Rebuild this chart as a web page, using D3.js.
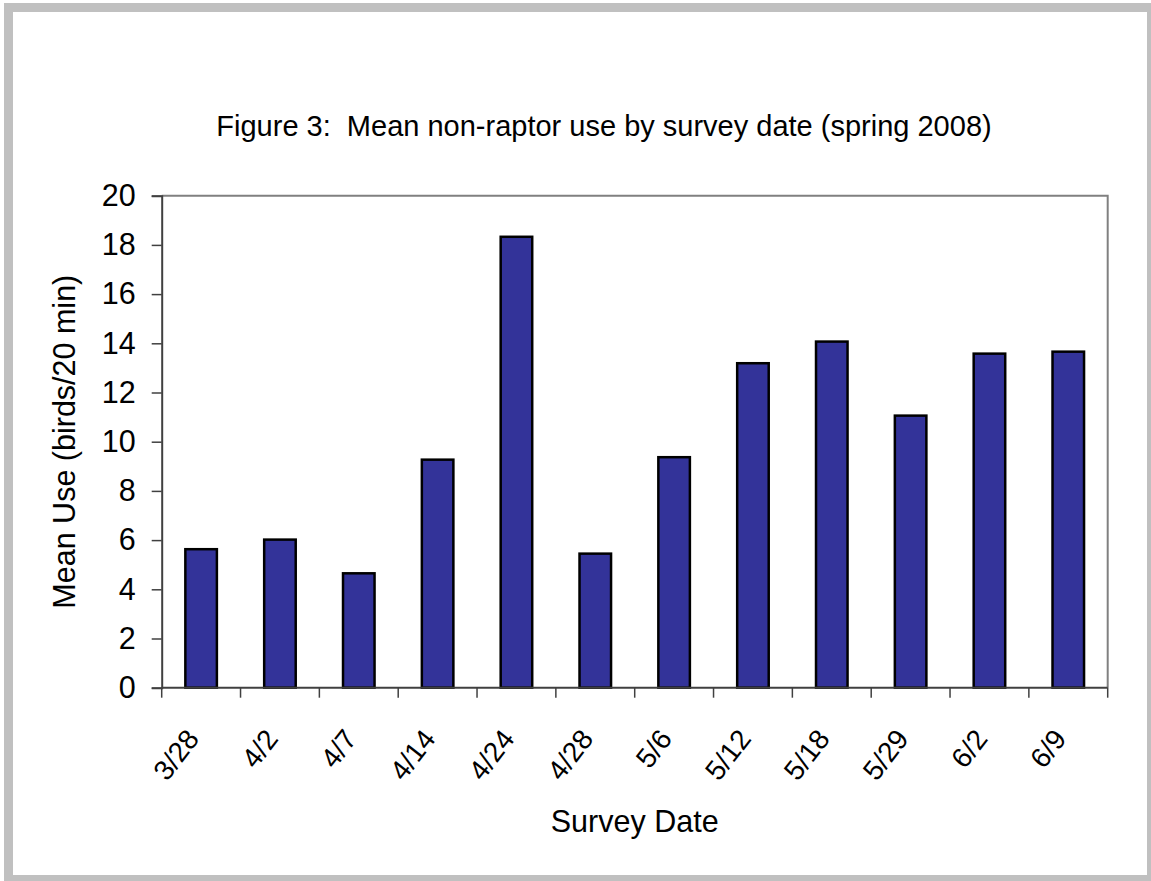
<!DOCTYPE html>
<html>
<head>
<meta charset="utf-8">
<script src="https://cdn.jsdelivr.net/npm/d3@7"></script>
<style>
  html, body { margin: 0; padding: 0; background: #fff; }
  svg { display: block; font-family: "Liberation Sans", Arial, sans-serif; }
  text { white-space: pre; }
</style>
</head>
<body>
<svg id="chart" width="1151" height="881"></svg>
<script>
// Survey dates and mean non-raptor use (birds per 20-minute survey)
const surveyDates = ["3/28", "4/2", "4/7", "4/14", "4/24", "4/28", "5/6", "5/12", "5/18", "5/29", "6/2", "6/9"];
const meanUse = [5.63, 6.02, 4.65, 9.27, 18.33, 5.45, 9.37, 13.19, 14.07, 11.06, 13.58, 13.66];
const yTicks = [0, 2, 4, 6, 8, 10, 12, 14, 16, 18, 20];

const titleText = "Figure 3:  Mean non-raptor use by survey date (spring 2008)";
const yTitle = "Mean Use (birds/20 min)";
const xTitle = "Survey Date";

const svg = d3.select("#chart");
const plot = { left: 161.7, right: 1107.7, top: 195.7, bottom: 687.7 };

// outer frame
svg.append("rect")
  .attr("x", 8.5).attr("y", 7.5)
  .attr("width", 1143).attr("height", 872)
  .attr("fill", "#fff")
  .attr("stroke", "#c0c0c0")
  .attr("stroke-width", 9);

const x = d3.scaleBand()
  .domain(surveyDates)
  .range([plot.left, plot.right])
  .paddingInner(0.6)
  .paddingOuter(0.3);

const xBand = d3.scaleBand()
  .domain(surveyDates)
  .range([plot.left, plot.right]);

const y = d3.scaleLinear()
  .domain([0, 20])
  .range([plot.bottom, plot.top]);

// plot area border (top and right)
svg.append("path")
  .attr("d", `M${plot.left},${plot.top}H${plot.right}V${plot.bottom}`)
  .attr("fill", "none")
  .attr("stroke", "#808080")
  .attr("stroke-width", 2);

// bars
svg.append("g").selectAll("rect")
  .data(surveyDates)
  .join("rect")
  .attr("x", (d) => x(d))
  .attr("width", x.bandwidth())
  .attr("y", (d, i) => y(meanUse[i]))
  .attr("height", (d, i) => y(0) - y(meanUse[i]))
  .attr("fill", "#333399")
  .attr("stroke", "#000")
  .attr("stroke-width", 2.5);

// y axis
const yAxis = d3.axisLeft(y)
  .tickValues(yTicks)
  .tickSize(10)
  .tickPadding(16)
  .tickFormat(d3.format("d"));
const gy = svg.append("g")
  .attr("transform", `translate(${plot.left},0)`)
  .call(yAxis);
gy.select(".domain").attr("stroke", "#404040").attr("stroke-width", 2);
gy.selectAll(".tick line").attr("stroke", "#404040").attr("stroke-width", 1.5);
gy.selectAll(".tick text")
  .attr("font-size", 30.5)
  .attr("fill", "#000")
  .attr("font-family", "Liberation Sans, Arial, sans-serif");

// x axis: ticks at category boundaries
const boundaries = surveyDates.map((d) => xBand(d)).concat([plot.right]);
const gx = svg.append("g");
gx.append("line")
  .attr("x1", plot.left).attr("x2", plot.right)
  .attr("y1", plot.bottom).attr("y2", plot.bottom)
  .attr("stroke", "#404040").attr("stroke-width", 2);
gx.selectAll("line.tk")
  .data(boundaries)
  .join("line")
  .attr("class", "tk")
  .attr("x1", (d) => d).attr("x2", (d) => d)
  .attr("y1", plot.bottom).attr("y2", plot.bottom + 10)
  .attr("stroke", "#404040").attr("stroke-width", 1.5);

gx.selectAll("text")
  .data(surveyDates)
  .join("text")
  .attr("transform", (d) => `translate(${xBand(d) + xBand.bandwidth() / 2 - 8.4},${plot.bottom + 45.5}) rotate(-52)`)
  .attr("text-anchor", "end")
  .attr("dy", "0.35em")
  .attr("font-size", 28)
  .attr("fill", "#000")
  .text((d) => d);

// titles
svg.append("text")
  .attr("x", 604).attr("y", 136)
  .attr("text-anchor", "middle")
  .attr("font-size", 29)
  .attr("fill", "#000")
  .text(titleText);

svg.append("text")
  .attr("transform", `translate(75,${(plot.top + plot.bottom) / 2}) rotate(-90)`)
  .attr("text-anchor", "middle")
  .attr("font-size", 30.5)
  .attr("fill", "#000")
  .text(yTitle);

svg.append("text")
  .attr("x", (plot.left + plot.right) / 2).attr("y", 831.5)
  .attr("text-anchor", "middle")
  .attr("font-size", 30.5)
  .attr("fill", "#000")
  .text(xTitle);
</script>
</body>
</html>
